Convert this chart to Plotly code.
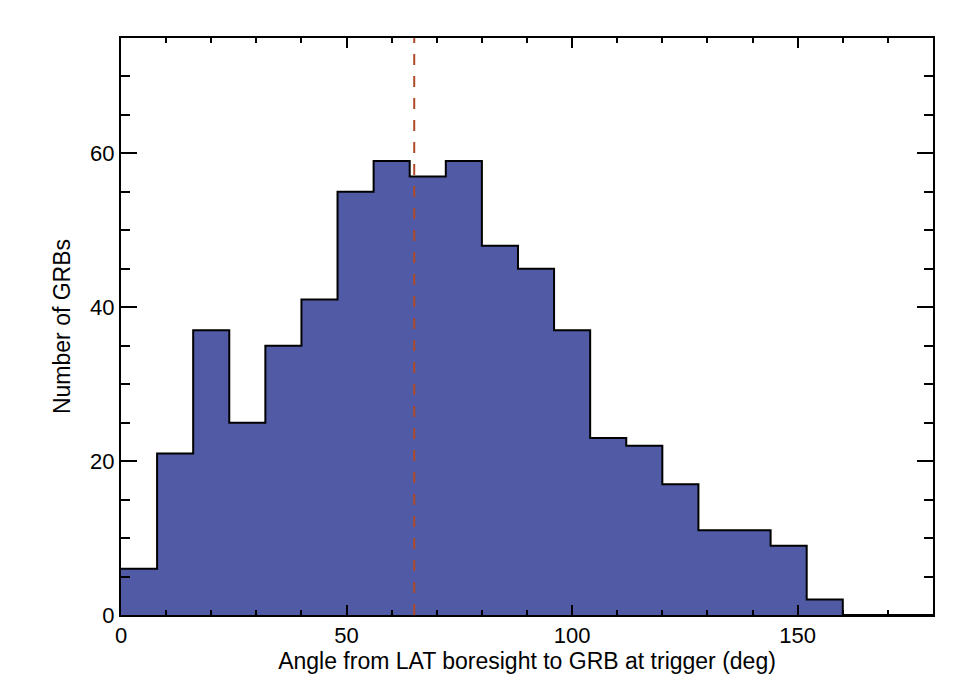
import plotly.graph_objects as go

bin_edges = [0, 8, 16, 24, 32, 40, 48, 56, 64, 72, 80, 88, 96, 104, 112, 120,
             128, 136, 144, 152, 160, 168, 176, 180]
counts = [6, 21, 37, 25, 35, 41, 55, 59, 57, 59, 48, 45, 37, 23, 22, 17,
          11, 11, 9, 2, 0, 0, 0]
median_angle = 65

x_tick_vals = [0, 50, 100, 150]
y_tick_vals = [0, 20, 40, 60]

step_x = bin_edges
step_y = counts + [counts[-1]]

fig = go.Figure()
fig.add_trace(go.Scatter(
    x=step_x, y=step_y, mode="lines", line_shape="hv",
    line=dict(color="black", width=2),
    fill="tozeroy", fillcolor="rgb(80,90,165)",
    showlegend=False, hoverinfo="skip"))

fig.add_shape(type="line", xref="x", yref="paper",
              x0=median_angle, x1=median_angle, y0=0, y1=1,
              line=dict(color="rgb(175,75,40)", width=2, dash="11px,11px"))

font_family = "Liberation Sans"
tick_size = 22
title_size = 23

fig.update_layout(
    width=969, height=692,
    margin=dict(l=113, r=44, t=30, b=85),
    paper_bgcolor="white", plot_bgcolor="white",
    font=dict(family=font_family, size=title_size, color="black"),
    xaxis=dict(range=[0, 180], tickvals=x_tick_vals, ticks="inside",
               ticklen=10, tickwidth=1.5, tickcolor="black",
               minor=dict(dtick=10, ticks="inside", ticklen=5, tickwidth=1.5, tickcolor="black"),
               showline=True, linecolor="black", linewidth=2, mirror="ticks",
               showgrid=False, zeroline=False,
               title=dict(text="Angle from LAT boresight to GRB at trigger (deg)", standoff=2,
                          font=dict(family=font_family, size=title_size, color="black")),
               tickfont=dict(family=font_family, size=tick_size, color="black")),
    yaxis=dict(range=[0, 75], tickvals=y_tick_vals, ticks="inside",
               ticklen=16, tickwidth=1.5, tickcolor="black",
               minor=dict(dtick=5, ticks="inside", ticklen=9, tickwidth=1.5, tickcolor="black"),
               showline=True, linecolor="black", linewidth=2, mirror="ticks",
               showgrid=False, zeroline=False,
               title=dict(text="Number of GRBs", standoff=13,
                          font=dict(family=font_family, size=title_size, color="black")),
               tickfont=dict(family=font_family, size=tick_size, color="black")),
)

fig.write_html("out.html")
